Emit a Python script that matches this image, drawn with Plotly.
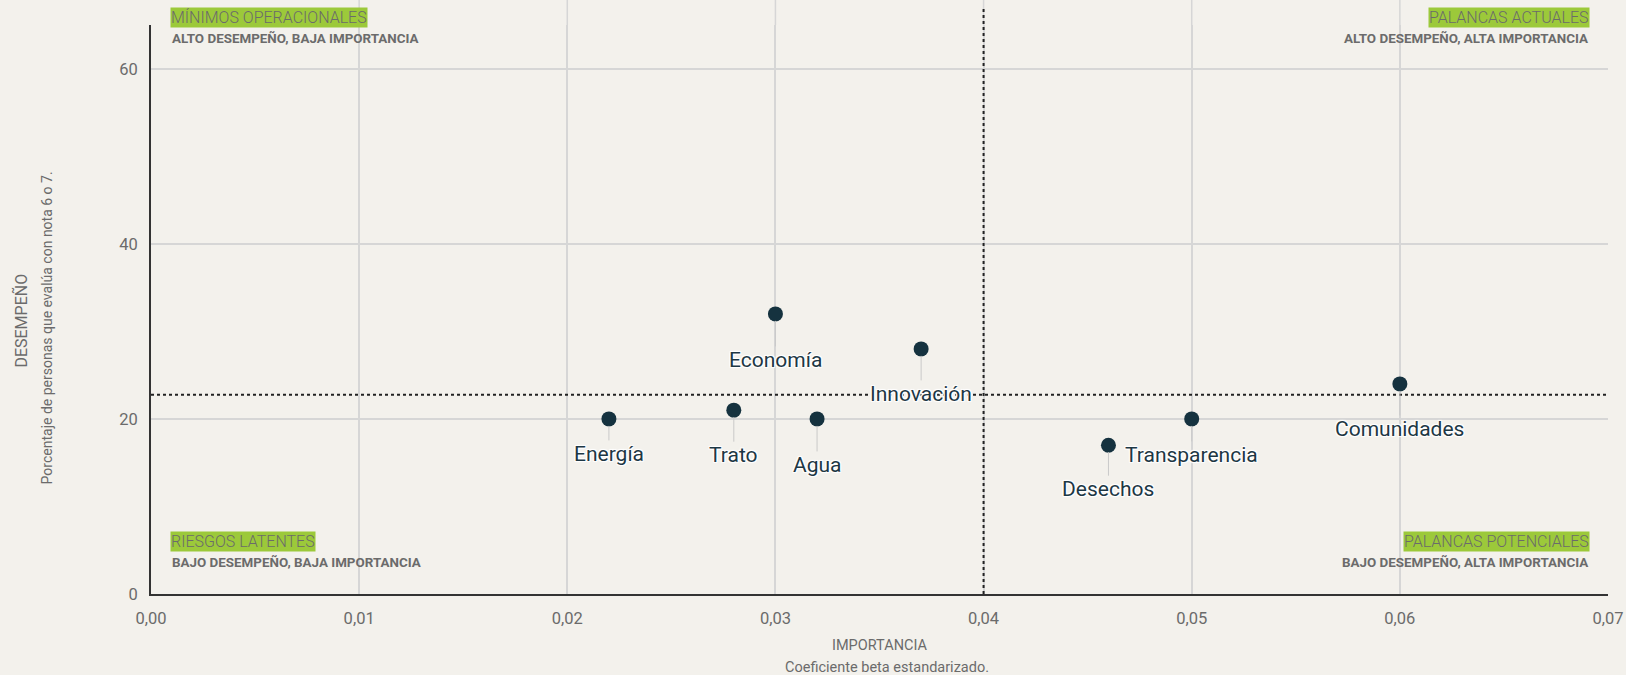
import plotly.graph_objects as go
import numpy as np

# ---- data ----
categories = ["Energía", "Trato", "Economía", "Agua", "Innovación", "Desechos", "Transparencia", "Comunidades"]
importancia = [0.022, 0.028, 0.030, 0.032, 0.037, 0.046, 0.050, 0.060]
desempeno = [20, 21, 32, 20, 28, 17, 20, 24]
x_tickvals = [0.00, 0.01, 0.02, 0.03, 0.04, 0.05, 0.06, 0.07]
y_tickvals = [0, 20, 40, 60]
importancia_corte = 0.04
desempeno_corte = float(np.mean(desempeno))

quadrant_titles = ["MÍNIMOS OPERACIONALES", "PALANCAS ACTUALES", "RIESGOS LATENTES", "PALANCAS POTENCIALES"]
quadrant_subs = ["ALTO DESEMPEÑO, BAJA IMPORTANCIA", "ALTO DESEMPEÑO, ALTA IMPORTANCIA",
                 "BAJO DESEMPEÑO, BAJA IMPORTANCIA", "BAJO DESEMPEÑO, ALTA IMPORTANCIA"]

# ---- style ----
label_dy = [35, 45, 46, 46, 45, 44, 36, 45]
BG = "#f3f1ec"
DOT = "#15323f"
GRAY = "#6b6b6b"
GREEN = "#9cc93a"
GRID = "#d6d6d6"
FONT = "Roboto"
HALO = "1px 1px 1px #fff, -1px -1px 1px #fff, 1px -1px 1px #fff, -1px 1px 1px #fff, 0 0 2px #fff"

fig = go.Figure()
fig.add_trace(go.Scatter(
    x=importancia, y=desempeno, mode="markers",
    marker=dict(color=DOT, size=15, line=dict(width=0)),
    hovertext=categories, hoverinfo="text", showlegend=False,
))

annotations = []
for cat, xv, yv, dy in zip(categories, importancia, desempeno, label_dy):
    annotations.append(dict(
        x=xv, y=yv, xref="x", yref="y", text=cat,
        showarrow=True, arrowhead=0, arrowwidth=1, arrowcolor="#c9c9c9",
        ax=0, ay=dy, standoff=7, startstandoff=0,
        font=dict(family=FONT, size=21, color="#1d3744", shadow=HALO),
    ))

# quadrant labels
qpos = [
    (0.013, "left", 1.013, 0.977),
    (0.9876, "right", 1.013, 0.977),
    (0.013, "left", 0.0914, 0.0545),
    (0.9876, "right", 0.0914, 0.0545),
]
for title, sub, (qx, anchor, ty, sy) in zip(quadrant_titles, quadrant_subs, qpos):
    annotations.append(dict(
        x=qx, y=ty, xref="paper", yref="paper", xanchor=anchor, yanchor="middle",
        text=title, showarrow=False, bgcolor=GREEN, borderpad=0,
        font=dict(family=FONT, size=16, color=GRAY, weight=300),
    ))
    annotations.append(dict(
        x=qx, y=sy, xref="paper", yref="paper", xanchor=anchor, yanchor="middle",
        text=sub, showarrow=False,
        font=dict(family=FONT, size=13.4, color=GRAY, weight=700),
    ))

# axis titles
annotations += [
    dict(x=0.5, y=-0.09, xref="paper", yref="paper", xanchor="center", yanchor="middle",
         text="IMPORTANCIA", showarrow=False, font=dict(family=FONT, size=14.5, color=GRAY)),
    dict(x=0.505, y=-0.13, xref="paper", yref="paper", xanchor="center", yanchor="middle",
         text="Coeficiente beta estandarizado.", showarrow=False,
         font=dict(family=FONT, size=14.5, color=GRAY)),
    dict(x=-0.0894, y=0.48, xref="paper", yref="paper", xanchor="center", yanchor="middle",
         text="DESEMPEÑO", showarrow=False, textangle=-90,
         font=dict(family=FONT, size=16, color=GRAY)),
    dict(x=-0.0716, y=0.468, xref="paper", yref="paper", xanchor="center", yanchor="middle",
         text="Porcentaje de personas que evalúa con nota 6 o 7.",
         showarrow=False, textangle=-90, font=dict(family=FONT, size=14, color=GRAY)),
]

shapes = []
# vertical grid lines continue above the plotting area
for tv in x_tickvals[1:-1]:
    shapes.append(dict(type="line", xref="x", yref="paper", x0=tv, x1=tv, y0=1, y1=1.044,
                       line=dict(color=GRID, width=1.5), layer="below"))
shapes += [
    dict(type="line", xref="x", yref="paper", x0=importancia_corte, x1=importancia_corte, y0=0, y1=1.03,
         line=dict(color="#222", width=2, dash="dot"), layer="above"),
    dict(type="line", xref="paper", yref="y", x0=0, x1=1, y0=desempeno_corte, y1=desempeno_corte,
         line=dict(color="#222", width=2, dash="dot"), layer="above"),
]

fig.update_layout(
    width=1626, height=675,
    margin=dict(l=151, r=18, t=25, b=81, autoexpand=False),
    paper_bgcolor=BG, plot_bgcolor=BG,
    separators=",.",
    font=dict(family=FONT, color=GRAY),
    annotations=annotations, shapes=shapes,
    xaxis=dict(range=[0, 0.07], tickvals=x_tickvals, tickformat=".2f", automargin=False,
               showgrid=True, gridcolor=GRID, gridwidth=1.5, zeroline=False,
               showline=True, linecolor="#333", linewidth=2, ticks="",
               ticklabelstandoff=8, tickfont=dict(size=16.5, color=GRAY, family=FONT)),
    yaxis=dict(range=[0, 65], tickvals=y_tickvals, automargin=False,
               showgrid=True, gridcolor=GRID, gridwidth=1.5, zeroline=False,
               showline=True, linecolor="#333", linewidth=2, ticks="",
               ticklabelstandoff=8, tickfont=dict(size=16.5, color=GRAY, family=FONT)),
    hovermode="closest",
)

fig.write_html("out.html", config={"displayModeBar": False},
               post_script="document.body.style.margin='0';document.body.style.background='%s';" % BG)
